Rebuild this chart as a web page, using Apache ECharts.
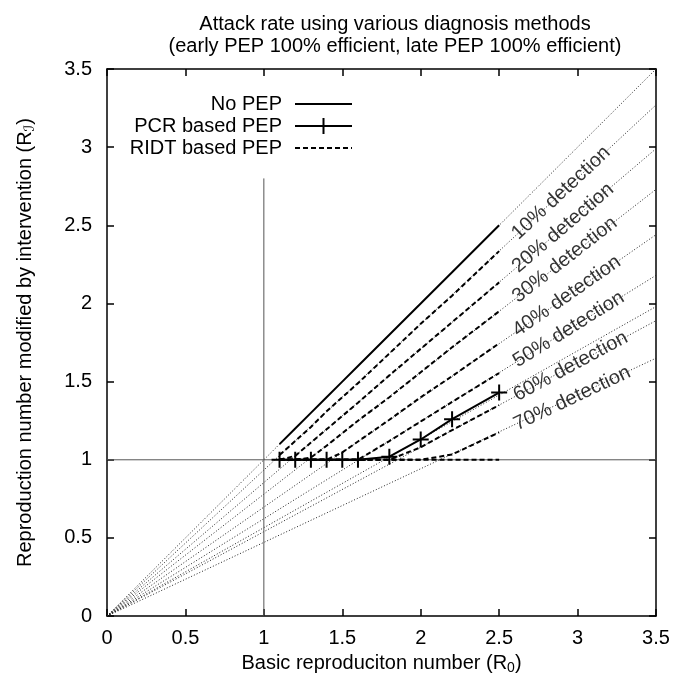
<!DOCTYPE html>
<html><head><meta charset="utf-8">
<script src="https://cdn.jsdelivr.net/npm/echarts@6/dist/echarts.min.js"></script>
<style>html,body{margin:0;padding:0;background:#fff}#c{width:689px;height:680px}</style>
</head><body><div id="c"></div>
<script>
// ---- data ----
const R0 = [1.1, 1.2, 1.3, 1.4, 1.5, 1.6, 1.8, 2.0, 2.2, 2.5];
const noPEP  = [1.1, 1.2, 1.3, 1.4, 1.5, 1.6, 1.8, 2.0, 2.2, 2.5];
const pcrPEP = [1, 1, 1, 1, 1, 1, 1.02, 1.13, 1.26, 1.43];
const ridt10 = [1.03, 1.12, 1.21, 1.31, 1.40, 1.49, 1.68, 1.87, 2.05, 2.335];
const ridt20 = [1, 1.025, 1.11, 1.195, 1.28, 1.365, 1.54, 1.71, 1.88, 2.135];
const ridt30 = [1, 1, 1.014, 1.09, 1.17, 1.25, 1.40, 1.56, 1.72, 1.95];
const ridt40 = [1, 1, 1, 1, 1.047, 1.117, 1.256, 1.40, 1.535, 1.745];
const ridt50 = [1, 1, 1, 1, 1, 1, 1.12, 1.245, 1.37, 1.555];
const ridt60 = [1, 1, 1, 1, 1, 1, 1, 1.08, 1.19, 1.35];
const ridt70 = [1, 1, 1, 1, 1, 1, 1, 1, 1.034, 1.175];
const ridtFlat = [1, 1, 1, 1, 1, 1, 1, 1, 1, 1];
// dotted guide lines from the origin: value reached at R0 = 3.5
const guideEnds = [3.5, 3.27, 2.99, 2.73, 2.44, 2.18, 1.98, 1.89, 1.65];
const detectionLabels = ['10% detection', '20% detection', '30% detection', '40% detection',
                         '50% detection', '60% detection', '70% detection'];
const labelGuide = [1, 2, 3, 4, 5, 7, 8];      // which guide each label follows
const labelR0 = 2.6;
const labelRI = [2.43, 2.22, 2.03, 1.815, 1.62, 1.405, 1.22];
const vLine = [[1, 0], [1, 2.8]];
const hLine = [[0, 1], [3.5, 1]];

const FONT = '"Liberation Sans", "DejaVu Sans", Arial, sans-serif';
const pair = arr => R0.map((x, i) => [x, arr[i]]);

const series = [];
guideEnds.forEach(e => series.push({
  type: 'line', data: [[0, 0], [3.5, e]], symbol: 'none', silent: true,
  lineStyle: { color: '#222', width: 1, type: [1, 2] }, z: 1
}));
[vLine, hLine].forEach(d => series.push({
  type: 'line', data: d, symbol: 'none', silent: true,
  lineStyle: { color: '#555', width: 1 }, z: 1
}));
[ridt10, ridt20, ridt30, ridt40, ridt50, ridt60, ridt70, ridtFlat].forEach(a => series.push({
  name: 'RIDT based PEP', type: 'line', data: pair(a), symbol: 'none',
  lineStyle: { color: '#000', width: 2, type: [5, 3] }, itemStyle: { color: '#000' }, z: 3
}));
series.push({
  name: 'PCR based PEP', type: 'line', data: pair(pcrPEP),
  symbol: 'path://M0,5L10,5M5,0L5,10', symbolSize: 16, showAllSymbol: true,
  lineStyle: { color: '#000', width: 2 },
  itemStyle: { color: '#000', borderColor: '#000', borderWidth: 2 }, z: 4
});
series.push({
  name: 'No PEP', type: 'line', data: pair(noPEP), symbol: 'none',
  lineStyle: { color: '#000', width: 2 }, itemStyle: { color: '#000' }, z: 4
});
series.push({
  type: 'scatter', symbolSize: 0, silent: true, z: 5,
  data: labelRI.map((y, i) => ({
    value: [labelR0, y],
    label: {
      show: true, position: 'right', distance: 0,
      rotate: Math.atan(guideEnds[labelGuide[i]] / 3.5) * 180 / Math.PI,
      formatter: detectionLabels[i]
    }
  })),
  label: { color: '#000', fontSize: 20, fontFamily: FONT, align: 'left', verticalAlign: 'middle' }
});

const axisCommon = {
  type: 'value', min: 0, max: 3.5, interval: 0.5,
  axisLine: { show: true, onZero: false, lineStyle: { color: '#000', width: 1.5 } },
  axisTick: { show: true, inside: true, length: 7, lineStyle: { color: '#000', width: 1.5 } },
  splitLine: { show: false }
};
const rich = { s: { fontSize: 14, fontFamily: FONT, color: '#000', padding: [10, 0, 0, 0], verticalAlign: 'bottom' } };

const option = {
  animation: false,
  backgroundColor: '#fff',
  textStyle: { fontFamily: FONT },
  title: {
    text: 'Attack rate using various diagnosis methods\n(early PEP 100% efficient, late PEP 100% efficient)',
    left: 390, top: 8, textAlign: 'center',
    textStyle: { fontSize: 20, fontWeight: 'normal', color: '#000', fontFamily: FONT, lineHeight: 22 }
  },
  legend: {
    data: [
      { name: 'No PEP', itemStyle: { opacity: 0 } },
      { name: 'PCR based PEP' },
      { name: 'RIDT based PEP', itemStyle: { opacity: 0 } }
    ],
    orient: 'vertical', align: 'right', right: 336, top: 94,
    itemWidth: 57, itemHeight: 20, itemGap: 2, padding: 0,
    textStyle: { fontSize: 20, color: '#000', fontFamily: FONT, padding: [0, 8, 0, 0] }
  },
  grid: { left: 107, right: 33, top: 69, bottom: 62, containLabel: false },
  xAxis: [
    Object.assign({}, axisCommon, {
      position: 'bottom',
      name: 'Basic reproduciton number (R{s|0})', nameLocation: 'middle', nameGap: 32,
      nameTextStyle: { fontSize: 20, color: '#000', fontFamily: FONT, rich },
      axisLabel: { margin: 12, fontSize: 20, color: '#000', fontFamily: FONT }
    }),
    Object.assign({}, axisCommon, { position: 'top', axisLabel: { show: false } })
  ],
  yAxis: [
    Object.assign({}, axisCommon, {
      position: 'left',
      name: 'Reproduction number modified by intervention (R{s|ℐ})', nameLocation: 'middle', nameGap: 70,
      nameTextStyle: { fontSize: 20, color: '#000', fontFamily: FONT, rich },
      axisLabel: { margin: 15, fontSize: 20, color: '#000', fontFamily: FONT }
    }),
    Object.assign({}, axisCommon, { position: 'right', axisLabel: { show: false } })
  ],
  series
};
const chart = echarts.init(document.getElementById('c'));
chart.setOption(option);
</script></body></html>
